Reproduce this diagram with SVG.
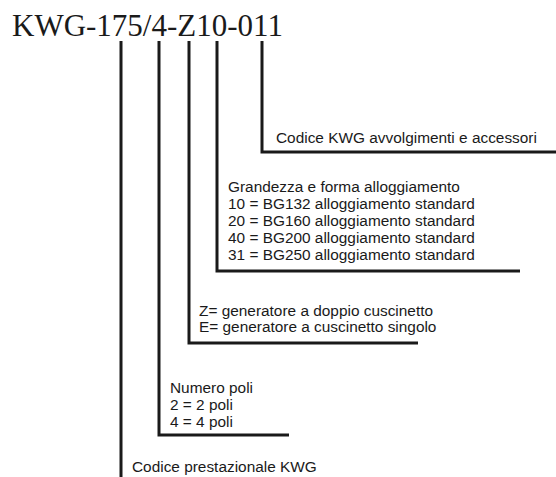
<svg xmlns="http://www.w3.org/2000/svg" width="556" height="477" viewBox="0 0 556 477">
<style>
.t{font-family:"Liberation Sans",Arial,sans-serif;font-size:15.4px;fill:#1a1a1a}
.title{font-family:"Liberation Serif","Times New Roman",serif;font-size:31px;fill:#1a1a1a}
.c{fill:none;stroke:#1a1a1a;stroke-width:3}
</style>
<rect width="556" height="477" fill="#fff"/>
<g id="title"><text class="title" x="12" y="36">KWG-175/4-Z10-011</text></g>
<g id="connectors">
<path class="c" d="M121,41 V477"/>
<path class="c" d="M159,41 V435 H289"/>
<path class="c" d="M189,41 V343 H418"/>
<path class="c" d="M217,41 V271 H520"/>
<path class="c" d="M262,41 V152 H556"/>
</g>
<g id="n-accessori"><text class="t" x="276" y="143">Codice KWG avvolgimenti e accessori</text></g>
<g id="n-grandezza">
<text class="t" x="228" y="192">Grandezza e forma alloggiamento</text>
<text class="t" x="228" y="209">10 = BG132 alloggiamento standard</text>
<text class="t" x="228" y="226">20 = BG160 alloggiamento standard</text>
<text class="t" x="228" y="243">40 = BG200 alloggiamento standard</text>
<text class="t" x="228" y="260">31 = BG250 alloggiamento standard</text>
</g>
<g id="n-generatore">
<text class="t" x="199" y="316">Z= generatore a doppio cuscinetto</text>
<text class="t" x="199" y="332">E= generatore a cuscinetto singolo</text>
</g>
<g id="n-poli">
<text class="t" x="170" y="393">Numero poli</text>
<text class="t" x="170" y="410">2 = 2 poli</text>
<text class="t" x="170" y="427">4 = 4 poli</text>
</g>
<g id="n-codice">
<text class="t" x="132" y="472">Codice prestazionale KWG</text>
</g>
</svg>
